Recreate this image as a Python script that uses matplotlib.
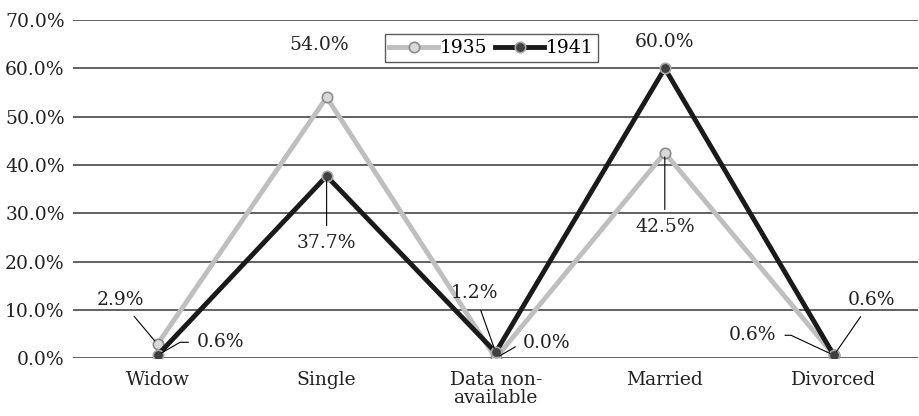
import matplotlib
matplotlib.use("Agg")
import matplotlib.pyplot as plt
from matplotlib.ticker import FuncFormatter

categories = ["Widow", "Single", "Data non-\navailable", "Married", "Divorced"]
years = ["1935", "1941"]
values_1935 = [2.9, 54.0, 0.0, 42.5, 0.6]
values_1941 = [0.6, 37.7, 1.2, 60.0, 0.6]

# label offsets in pixels (dx, dy) relative to each point
offsets_1935 = [(-37, 44), (-7, 52), (51, 15), (0, -74), (-81, 20)]
offsets_1941 = [(63, 13), (0, -67), (-21, 59), (0, 26), (38, 55)]
leader_1935 = [True, False, True, True, True]
leader_1941 = [True, True, True, False, True]
conn_1935 = ["arc3", None, "angle,angleA=0,angleB=30,rad=0", "arc3", "angle,angleA=0,angleB=-25,rad=0"]
conn_1941 = ["angle,angleA=0,angleB=30,rad=0", "arc3", "arc3", None, "arc3"]

plt.rcParams['font.family'] = ['DejaVu Serif']
fig = plt.figure(figsize=(9.19, 4.16), dpi=100)
ax = fig.add_axes([0.0794, 0.139, 0.92, 0.813])

x = list(range(len(categories)))
ax.plot(x, values_1935, color="#bfbfbf", lw=3.5, marker="o", markersize=7.5,
        markerfacecolor="#d9d9d9", markeredgecolor="#8c8c8c", markeredgewidth=1.2,
        label=years[0], zorder=3)
ax.plot(x, values_1941, color="#1a1a1a", lw=3.5, marker="o", markersize=7.5,
        markerfacecolor="#404040", markeredgecolor="#a6a6a6", markeredgewidth=1.2,
        label=years[1], zorder=4)

def add_labels(vals, offs, leaders, conns):
    for i, (v, (dx, dy), ld, cs) in enumerate(zip(vals, offs, leaders, conns)):
        ap = None
        if ld:
            ap = dict(arrowstyle="-", color="black", lw=0.8, shrinkA=4, shrinkB=3,
                      connectionstyle=cs)
        ax.annotate(f"{v:.1f}%", xy=(i, v), xytext=(dx, dy), textcoords="offset pixels",
                    ha="center", va="center", fontsize=13.5, color="#222222",
                    arrowprops=ap, zorder=5)

add_labels(values_1935, offsets_1935, leader_1935, conn_1935)
add_labels(values_1941, offsets_1941, leader_1941, conn_1941)

ax.set_xlim(-0.5, len(categories) - 0.5)
ax.set_ylim(0, 70)
ax.set_yticks(range(0, 71, 10))
ax.yaxis.set_major_formatter(FuncFormatter(lambda v, p: f"{v:.1f}%"))
ax.set_xticks(x)
ax.set_xticklabels(categories, linespacing=1.0)
ax.tick_params(axis="both", length=0, labelsize=13.5, colors="#222222")
ax.tick_params(axis="x", pad=9)
ax.tick_params(axis="y", pad=6)
ax.yaxis.grid(True, color="#555555", lw=1.3)
ax.set_axisbelow(True)
for s in ax.spines.values():
    s.set_visible(False)

leg = ax.legend(loc="upper center", bbox_to_anchor=(0.495, 0.985), ncol=2, frameon=True,
                fancybox=False, edgecolor="#333333", fontsize=13.5, handlelength=2.6,
                handletextpad=0.1, columnspacing=0.4, borderpad=0.25)
leg.get_frame().set_linewidth(1.0)

fig.savefig("out.png", dpi=100)
